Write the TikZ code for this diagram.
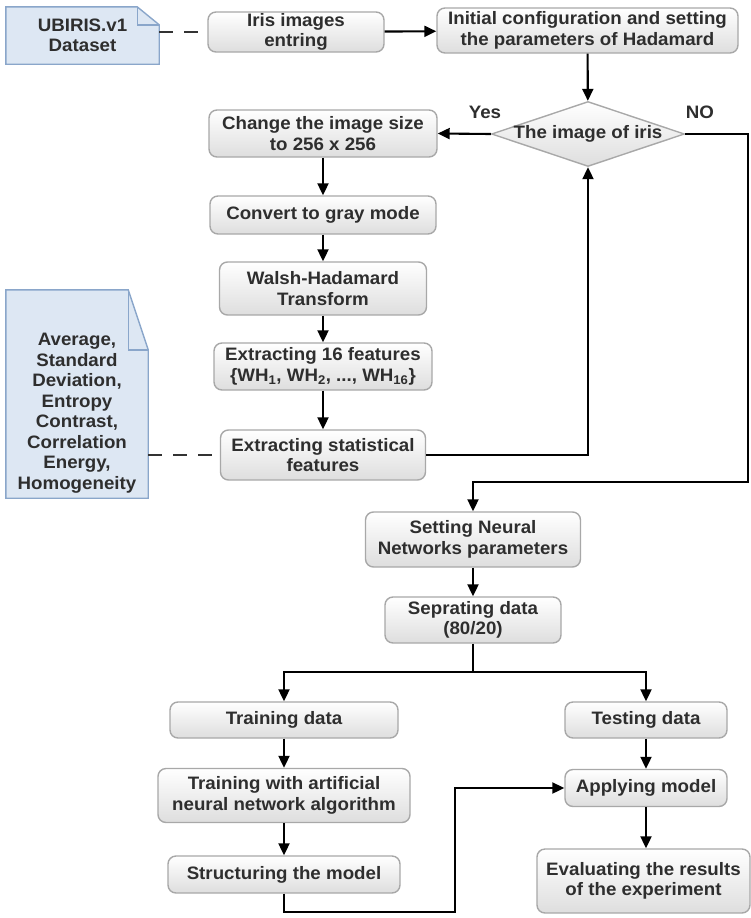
\documentclass[tikz,border=0pt]{standalone}
\usepackage{fontspec}
\setmainfont{Liberation Sans}[FakeStretch=1.04]
\usetikzlibrary{arrows.meta,shapes.geometric,positioning,backgrounds}
\definecolor{txtgray}{HTML}{2E2E2E}
\definecolor{boxline}{HTML}{A8A8A8}
\definecolor{notefill}{HTML}{DDE7F3}
\definecolor{noteline}{HTML}{8AA6CA}

\begin{document}
\begin{tikzpicture}[
    x=1pt, y=-1pt,
    font=\fontsize{18}{20.5}\selectfont\bfseries,
    box/.style={rectangle, rounded corners=8pt, draw=boxline, line width=1.4pt, top color=white, bottom color=black!13, text=txtgray, align=center, inner sep=0pt},
    decision/.style={diamond, draw=boxline, line width=1.4pt, top color=white, bottom color=black!13, inner sep=0pt},
    note/.style={rectangle, inner sep=0pt, text=txtgray, align=center},
    notepath/.style={draw=noteline, line width=1.4pt, fill=notefill},
    flow/.style={line width=2.1pt, -{Triangle[length=12pt,width=11pt]}},
    link/.style={line width=2.1pt},
    dashlink/.style={line width=1.8pt, draw=black!80, dash pattern=on 14pt off 11pt}
  ]
    \useasboundingbox (0,0) rectangle (750,918);

    % Notes
    \node[note, minimum width=153pt, minimum height=57pt] (ubiris) at (82.5,35.5) {UBIRIS.v1\\Dataset};
    \node[note, minimum width=142pt, minimum height=208pt,
      label={[text=txtgray, align=center, yshift=-19pt]center:Average,\\Standard\\Deviation,\\Entropy\\Contrast,\\Correlation\\Energy,\\Homogeneity}] (measures) at (77,394) {};

    % Top row
    \node[box, minimum width=176pt, minimum height=40pt] (input) at (296,32) {Iris images\\entring};
    \node[box, minimum width=301pt, minimum height=45pt] (init) at (587.5,30.5) {Initial configuration and setting\\the parameters of Hadamard};
    \node[decision, minimum width=193pt, minimum height=65pt, label={[text=txtgray]center:The image of iris}] (iris) at (588,134) {};
    \node[text=txtgray] (yes) at (485,112) {Yes};
    \node[text=txtgray] (no) at (700,112) {NO};

    % Feature extraction
    \node[box, minimum width=228pt, minimum height=47pt] (resize) at (323,133.5) {Change the image size\\to 256 x 256};
    \node[box, minimum width=226pt, minimum height=38pt] (gray) at (323,215) {Convert to gray mode};
    \node[box, minimum width=207pt, minimum height=53pt] (wht) at (323,288.5) {Walsh-Hadamard\\Transform};
    \node[box, minimum width=218pt, minimum height=47pt] (feat) at (323,366.5) {Extracting 16 features\\\{WH\textsubscript{1}, WH\textsubscript{2}, ..., WH\textsubscript{16}\}};
    \node[box, minimum width=205pt, minimum height=50pt] (stats) at (323,455) {Extracting statistical\\features};

    % Neural network
    \node[box, minimum width=215pt, minimum height=55pt] (nnpar) at (473,539.5) {Setting Neural\\Networks parameters};
    \node[box, minimum width=176pt, minimum height=46pt] (split) at (473,620) {Seprating data\\(80/20)};
    \node[box, minimum width=228pt, minimum height=36pt] (train) at (284,720) {Training data};
    \node[box, minimum width=162pt, minimum height=36pt] (test) at (646,720) {Testing data};
    \node[box, minimum width=252pt, minimum height=54pt] (ann) at (284,795.5) {Training with artificial\\neural network algorithm};
    \node[box, minimum width=162pt, minimum height=37pt] (apply) at (646,788) {Applying model};
    \node[box, minimum width=232pt, minimum height=37pt] (model) at (284,874.5) {Structuring the model};
    \node[box, minimum width=213pt, minimum height=64pt] (eval) at (643.5,881) {Evaluating the results\\of the experiment};

    \coordinate (nobend) at (748,482);
    \coordinate (fork) at (473,672);
    \coordinate (loop) at (455,912);

    % Note outlines
    \begin{scope}[on background layer]
      \draw[notepath] (ubiris.south west) -- (ubiris.north west) -- ([xshift=-22pt]ubiris.north east) -- ([yshift=-18pt]ubiris.north east) -- (ubiris.south east) -- cycle;
      \draw[draw=noteline, line width=1.4pt] ([xshift=-22pt]ubiris.north east) |- ([yshift=-18pt]ubiris.north east);
      \draw[notepath] (measures.south west) -- (measures.north west) -- ([xshift=-20pt]measures.north east) -- ([yshift=-60pt]measures.north east) -- (measures.south east) -- cycle;
      \draw[draw=noteline, line width=1.4pt] ([xshift=-20pt]measures.north east) |- ([yshift=-60pt]measures.north east);
    \end{scope}

    % Connectors
    \draw[dashlink] (ubiris.east |- input.west) -- (input.west);
    \draw[dashlink] (measures.east |- stats.west) -- (stats.west);
    \draw[flow] (input) -- (init);
    \draw[flow] (init) -- (iris);
    \draw[flow] (iris.west) -- (resize.east);
    \draw[flow] (iris.east) -| (nobend) -| (nnpar.north);
    \draw[flow] (resize) -- (gray);
    \draw[flow] (gray) -- (wht);
    \draw[flow] (wht) -- (feat);
    \draw[flow] (feat) -- (stats);
    \draw[flow] (stats.east) -| (iris.south);
    \draw[flow] (nnpar) -- (split);
    \draw[link] (split.south) -- (fork);
    \draw[flow] (fork) -| (train.north);
    \draw[flow] (fork) -| (test.north);
    \draw[flow] (train) -- (ann);
    \draw[flow] (ann) -- (model);
    \draw[flow] (model.south) |- (loop) |- (apply.west);
    \draw[flow] (test) -- (apply);
    \draw[flow] (apply.south) -- (apply.south |- eval.north);
  \end{tikzpicture}
\end{document}
